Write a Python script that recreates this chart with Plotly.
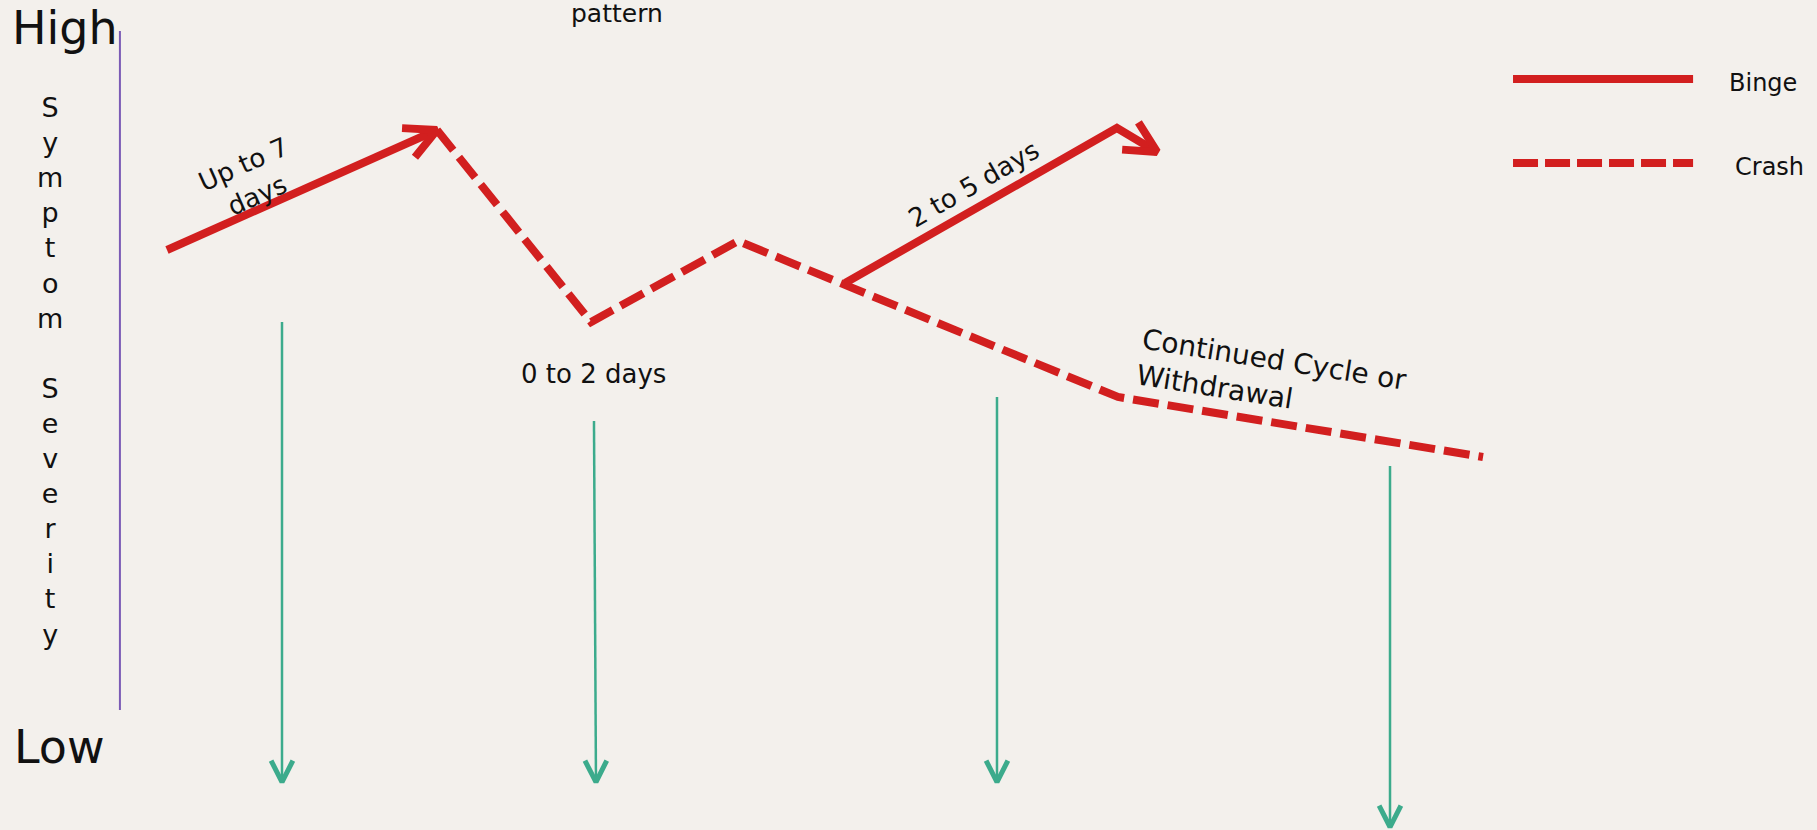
import math
import plotly.graph_objects as go

W, H = 1817, 830

# Coordinates in chart units: x = time (0-100), y = symptom severity (0 = low, 100 = high)
binge1_x = [9.19, 24.05]
binge1_y = [69.88, 84.34]
crash_x = [24.05, 32.53, 40.62, 61.53, 81.62]
crash_y = [84.34, 61.2, 70.96, 52.17, 44.94]
binge2_x = [46.51, 61.47, 63.68]
binge2_y = [65.9, 84.58, 81.69]

drop_x_top = [15.52, 32.69, 54.87, 76.5]
drop_x_bot = [15.52, 32.8, 54.87, 76.5]
drop_y_top = [61.2, 49.28, 52.17, 43.86]
drop_y_bot = [5.78, 5.78, 5.78, 0.36]

axis_x = [6.6, 6.6]
axis_y = [14.46, 96.27]

legend_x = [83.27, 93.18]
legend_binge_y = 90.48
legend_crash_y = 80.36

labels = ["High", "Low", "S<br>y<br>m<br>p<br>t<br>o<br>m<br> <br>S<br>e<br>v<br>e<br>r<br>i<br>t<br>y",
          "pattern", "Up to 7<br>days", "2 to 5 days", "0 to 2 days",
          "Continued Cycle or<br>Withdrawal", "Binge", "Crash"]
label_x = [3.58, 3.25, 2.75, 33.96, 13.76, 53.6, 32.64, 70.0, 97.03, 97.36]
label_y = [96.63, 10.0, 55.3, 98.43, 78.3, 77.83, 54.94, 54.46, 90.0, 79.88]
label_size = [46, 46, 27, 25, 26, 26, 26, 28, 24, 24]
label_angle = [0, 0, 0, 0, -24, -30, 0, 9, 0, 0]
label_align = ["center"] * 7 + ["left", "center", "center"]

RED = "#D21F1F"
TEAL = "#3CAB8C"
PURPLE = "#7B5BB5"
BG = "#F3F0EC"
FONT = "DejaVu Sans"


def chevron(tip_x, tip_y, prev_x, prev_y, length_px, half_angle_deg):
    tx, ty = tip_x * W / 100, tip_y * H / 100
    px, py = prev_x * W / 100, prev_y * H / 100
    dx, dy = px - tx, py - ty
    n = math.hypot(dx, dy)
    dx, dy = dx / n, dy / n
    pts = []
    for s in (1, -1):
        a = math.radians(half_angle_deg * s)
        rx = dx * math.cos(a) - dy * math.sin(a)
        ry = dx * math.sin(a) + dy * math.cos(a)
        pts.append(((tx + rx * length_px) * 100 / W, (ty + ry * length_px) * 100 / H))
    return [pts[0][0], tip_x, pts[1][0]], [pts[0][1], tip_y, pts[1][1]]


fig = go.Figure()

# vertical axis line
fig.add_trace(go.Scatter(x=axis_x, y=axis_y, mode="lines",
                         line=dict(color=PURPLE, width=2), hoverinfo="skip"))

# drop arrows
for xt, xb, yt, yb in zip(drop_x_top, drop_x_bot, drop_y_top, drop_y_bot):
    fig.add_trace(go.Scatter(x=[xt, xb], y=[yt, yb], mode="lines",
                             line=dict(color=TEAL, width=2.5), hoverinfo="skip"))
    cx, cy = chevron(xb, yb, xt, yt, 24, 27)
    fig.add_trace(go.Scatter(x=cx, y=cy, mode="lines",
                             line=dict(color=TEAL, width=5), hoverinfo="skip"))

# crash path
fig.add_trace(go.Scatter(x=crash_x, y=crash_y, mode="lines",
                         line=dict(color=RED, width=8, dash="26px,9px"), hoverinfo="skip"))

# binge paths
fig.add_trace(go.Scatter(x=binge1_x, y=binge1_y, mode="lines",
                         line=dict(color=RED, width=8), hoverinfo="skip"))
cx, cy = chevron(binge1_x[-1], binge1_y[-1], binge1_x[-2], binge1_y[-2], 35, 27)
fig.add_trace(go.Scatter(x=cx, y=cy, mode="lines", line=dict(color=RED, width=8), hoverinfo="skip"))

fig.add_trace(go.Scatter(x=binge2_x, y=binge2_y, mode="lines",
                         line=dict(color=RED, width=8), hoverinfo="skip"))
cx, cy = chevron(binge2_x[-1], binge2_y[-1], binge2_x[-2], binge2_y[-2], 35, 27)
fig.add_trace(go.Scatter(x=cx, y=cy, mode="lines", line=dict(color=RED, width=8), hoverinfo="skip"))

# legend samples
fig.add_trace(go.Scatter(x=legend_x, y=[legend_binge_y] * 2, mode="lines",
                         line=dict(color=RED, width=8), hoverinfo="skip"))
fig.add_trace(go.Scatter(x=legend_x, y=[legend_crash_y] * 2, mode="lines",
                         line=dict(color=RED, width=8, dash="25px,7px"), hoverinfo="skip"))

for t, x, y, s, a, al in zip(labels, label_x, label_y, label_size, label_angle, label_align):
    fig.add_annotation(x=x, y=y, xref="x", yref="y", text=t, showarrow=False,
                       textangle=a, align=al, xanchor="center", yanchor="middle",
                       font=dict(family=FONT, size=s, color="#111111"))

fig.update_layout(
    width=W, height=H, margin=dict(l=0, r=0, t=0, b=0),
    paper_bgcolor=BG, plot_bgcolor=BG, showlegend=False,
    xaxis=dict(range=[0, 100], visible=False, fixedrange=True),
    yaxis=dict(range=[0, 100], visible=False, fixedrange=True),
)

fig.write_html("out.html", config={"displayModeBar": False},
               post_script="document.body.style.margin='0';document.body.style.overflow='hidden';")
